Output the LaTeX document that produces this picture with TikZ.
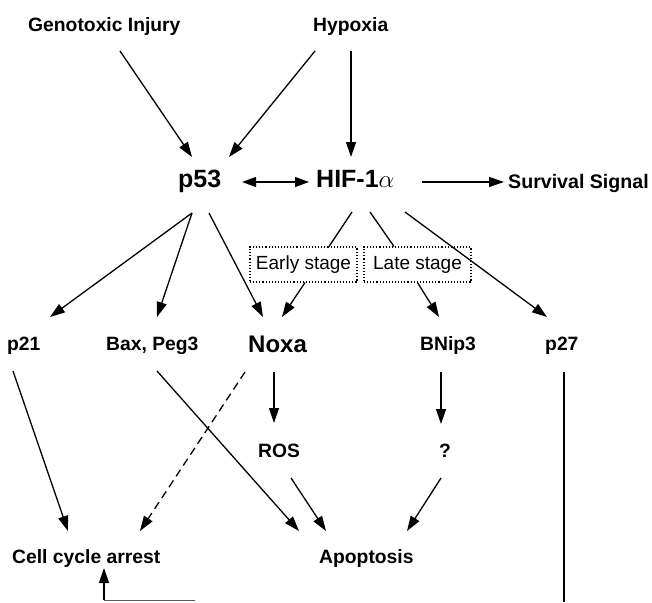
\documentclass[tikz,border=0pt]{standalone}
\usepackage{fontspec}
\setmainfont{Liberation Sans}
\usetikzlibrary{arrows.meta,calc}
\begin{document}
\begin{tikzpicture}[x=1pt,y=-1pt,
  lbl/.style={font=\fontsize{19.3}{22}\selectfont\bfseries, inner sep=0pt, anchor=base west},
  big/.style={font=\fontsize{25}{28}\selectfont\bfseries, inner sep=0pt, anchor=base west},
  stagebox/.style={draw, dotted, line width=1.1pt, minimum width=107pt, minimum height=35pt, inner sep=0pt, font=\fontsize{19}{22}\selectfont},
  arr/.style={line width=1.3pt, -{Triangle[length=15pt,width=10pt]}},
  dblarr/.style={line width=1.3pt, {Triangle[length=14pt,width=10pt]}-{Triangle[length=14pt,width=10pt]}},
  dasharr/.style={arr, dash pattern=on 8pt off 5pt},
  ln/.style={line width=1.3pt},
  faint/.style={line width=1pt, black!65}]
\useasboundingbox (0,0) rectangle (652,602);

% nodes
\node[lbl] (gen) at (28,31) {Genotoxic Injury};
\node[lbl] (hyp) at (313,31) {Hypoxia};
\node[big] (p53) at (178,187) {p53};
\node[big] (hif) at (316,187) {HIF-1{\fontsize{29}{29}\selectfont$\alpha$}};
\node[lbl, font=\fontsize{19.6}{22}\selectfont\bfseries] (surv) at (508,188) {Survival Signal};
\node[lbl] (p21) at (7,350) {p21};
\node[lbl] (bax) at (106,350) {Bax, Peg3};
\node[big, font=\fontsize{24}{28}\selectfont\bfseries] (noxa) at (248,352) {Noxa};
\node[lbl] (bnip) at (420,350) {BNip3};
\node[lbl] (p27) at (545,350) {p27};
\node[lbl] (ros) at (258,457) {ROS};
\node[lbl] (q) at (439,457) {?};
\node[lbl] (cca) at (12,563) {Cell cycle arrest};
\node[lbl] (apo) at (319,563) {Apoptosis};
\node[stagebox] (early) at (303.5,264.5) {Early stage};
\node[stagebox] (late) at (417.5,264.5) {Late stage};

\coordinate (p27end) at (564,602);
\coordinate (botR) at (195,600);
\coordinate (botL) at (104,600);

% connectors
\draw[arr] ($(gen.base west)+(92,20)$) -- ($(p53.base west)+(14,-30)$);
\draw[arr] ($(hyp.base west)+(2,20)$) -- ($(p53.base west)+(51,-30)$);
\draw[arr] ($(hyp.base west)+(38,20)$) -- ($(hif.base west)+(35,-30)$);
\draw[dblarr] ($(p53.base west)+(64,-5)$) -- ($(hif.base west)+(-7,-5)$);
\draw[arr] ($(hif.base west)+(106,-5)$) -- ($(surv.base west)+(-4,-6)$);

\draw[arr] ($(p53.base west)+(14,26)$) -- ($(p21.base west)+(43,-33)$);
\draw[arr] ($(p53.base west)+(14,26)$) -- ($(bax.base west)+(51,-33)$);
\draw[arr] ($(p53.base west)+(31,26)$) -- ($(noxa.base west)+(15,-35)$);
\draw[ln] ($(hif.base west)+(36,25)$) -- ($(early.north)+(25.5,0)$);
\draw[ln] ($(hif.base west)+(54,25)$) -- ($(late.north)+(-23.5,0)$);
\draw[arr] ($(hif.base west)+(89,25)$) -- ($(p27.base west)+(2,-33)$);
\draw[arr] ($(early.south)+(1.5,0)$) -- ($(noxa.base west)+(34,-35)$);
\draw[arr] (late.south) -- ($(bnip.base west)+(19,-33)$);

\draw[arr] ($(p21.base west)+(6,21)$) -- ($(cca.base west)+(56,-32)$);
\draw[arr] ($(bax.base west)+(51,21)$) -- ($(apo.base west)+(-20,-32)$);
\draw[dasharr] ($(noxa.base west)+(-3,20)$) -- ($(cca.base west)+(128,-32)$);
\draw[arr] ($(noxa.base west)+(26,20)$) -- ($(ros.base west)+(16,-34)$);
\draw[arr] ($(ros.base west)+(33,21)$) -- ($(apo.base west)+(7,-32)$);
\draw[arr] ($(bnip.base west)+(21,22)$) -- ($(q.base west)+(2,-33)$);
\draw[arr] ($(q.base west)+(2,21)$) -- ($(apo.base west)+(88,-32)$);
\draw[ln] ($(p27.base west)+(19,22)$) -- (p27end);
\draw[faint] (botR) -- (botL);
\draw[arr] (botL) -- ($(cca.base west)+(92,5)$);
\end{tikzpicture}
\end{document}
